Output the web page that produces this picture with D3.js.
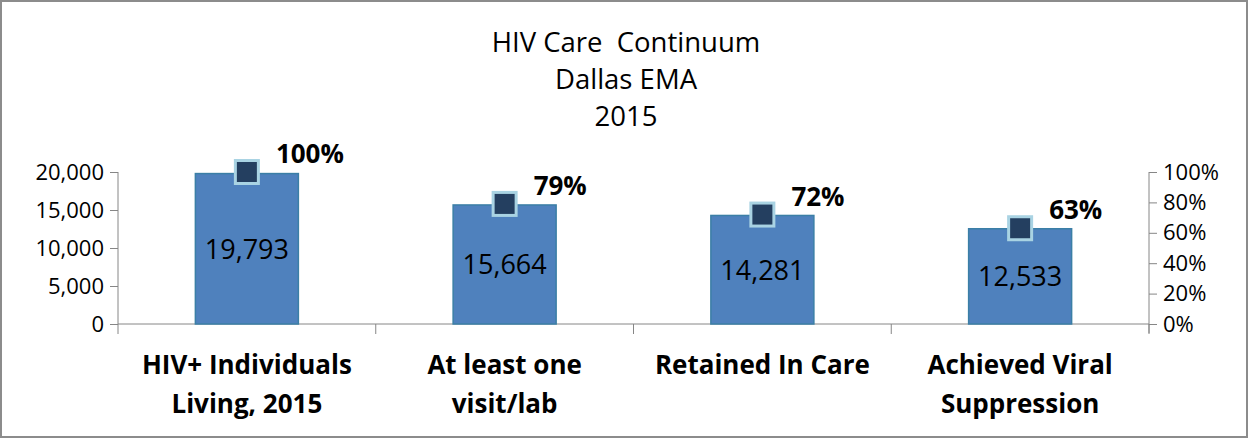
<!DOCTYPE html>
<html>
<head>
<meta charset="utf-8">
<script src="https://cdn.jsdelivr.net/npm/d3@7"></script>
<style>
  body { margin: 0; background: #fff; }
  svg text { font-family: "Open Sans", sans-serif; }
</style>
</head>
<body>
<div id="chart"></div>
<script>
var titleLines = ["HIV Care  Continuum", "Dallas EMA", "2015"];
var categories = ["HIV+ Individuals|Living, 2015", "At least one|visit/lab", "Retained In Care", "Achieved Viral|Suppression"];
var counts = [19793, 15664, 14281, 12533];
var percents = [100, 79, 72, 63];
var countTicks = [0, 5000, 10000, 15000, 20000];
var pctTicks = [0, 20, 40, 60, 80, 100];

var width = 1249, height = 439;
var svg = d3.select("#chart").append("svg")
    .attr("width", width)
    .attr("height", height);

// outer frame
svg.append("rect")
    .attr("x", 1).attr("y", 1)
    .attr("width", width - 3).attr("height", height - 3)
    .attr("fill", "#fff")
    .attr("stroke", "#8c8c8c")
    .attr("stroke-width", 2);

var plotLeft = 118, plotRight = 1149, plotTop = 172, plotBottom = 324;

var x = d3.scaleBand().domain(categories).range([plotLeft, plotRight]).padding(0);
var y = d3.scaleLinear().domain([0, 20000]).range([plotBottom, plotTop]);
var y2 = d3.scaleLinear().domain([0, 100]).range([plotBottom, plotTop]);

// title
svg.append("text")
    .attr("text-anchor", "middle")
    .attr("font-size", 27.5)
    .attr("fill", "#000")
    .style("white-space", "pre")
    .selectAll("tspan")
    .data(titleLines)
    .join("tspan")
    .attr("x", 626)
    .attr("y", (d, i) => 52 + i * 37)
    .text(d => d);

// left axis
var yAxis = svg.append("g")
    .attr("transform", "translate(" + plotLeft + ",0)")
    .call(d3.axisLeft(y).tickValues(countTicks).tickSize(8).tickPadding(6).tickFormat(d3.format(",")));
// right axis
var y2Axis = svg.append("g")
    .attr("transform", "translate(" + plotRight + ",0)")
    .call(d3.axisRight(y2).tickValues(pctTicks).tickSize(8).tickPadding(6).tickFormat(d => d + "%"));

[yAxis, y2Axis].forEach(function (g) {
    g.select(".domain").attr("stroke", "#868686");
    g.selectAll(".tick line").attr("stroke", "#868686");
    g.selectAll(".tick text").attr("font-size", 22).attr("fill", "#000")
        .attr("font-family", "'Open Sans', sans-serif");
});
yAxis.select(".domain").attr("d", "M0," + plotTop + "V" + plotBottom);
y2Axis.select(".domain").attr("d", "M0," + plotTop + "V" + (plotBottom + 9));

// category axis
var xAxis = svg.append("g")
    .attr("transform", "translate(0," + plotBottom + ")");
xAxis.append("line")
    .attr("x1", plotLeft).attr("x2", plotRight)
    .attr("stroke", "#868686");
var bounds = categories.map(c => x(c)).concat([plotRight]);
xAxis.selectAll("line.tk")
    .data(bounds)
    .join("line")
    .attr("class", "tk")
    .attr("x1", d => d).attr("x2", d => d)
    .attr("y1", 0).attr("y2", 10)
    .attr("stroke", "#868686");

xAxis.selectAll("text.cat")
    .data(categories)
    .join("text")
    .attr("class", "cat")
    .attr("text-anchor", "middle")
    .attr("font-size", 26)
    .attr("font-weight", "bold")
    .attr("fill", "#000")
    .each(function (d) {
        var lines = d.split("|");
        d3.select(this).selectAll("tspan")
            .data(lines)
            .join("tspan")
            .attr("x", x(d) + x.bandwidth() / 2)
            .attr("y", (l, i) => 50 + i * 39)
            .text(l => l);
    });

// bars
var barW = 103;
svg.selectAll("rect.bar")
    .data(counts)
    .join("rect")
    .attr("class", "bar")
    .attr("x", (d, i) => x(categories[i]) + x.bandwidth() / 2 - barW / 2)
    .attr("y", d => y(d))
    .attr("width", barW)
    .attr("height", d => plotBottom - y(d))
    .attr("fill", "#4f81bd")
    .attr("stroke", "#3b7fa6")
    .attr("stroke-width", 1.5);

svg.selectAll("text.val")
    .data(counts)
    .join("text")
    .attr("class", "val")
    .attr("text-anchor", "middle")
    .attr("font-size", 27)
    .attr("fill", "#000")
    .attr("x", (d, i) => x(categories[i]) + x.bandwidth() / 2)
    .attr("y", d => (y(d) + plotBottom) / 2 + 10)
    .text(d3.format(","));

// markers
var ms = 23;
svg.selectAll("rect.mark")
    .data(percents)
    .join("rect")
    .attr("class", "mark")
    .attr("x", (d, i) => x(categories[i]) + x.bandwidth() / 2 - ms / 2)
    .attr("y", d => y2(d) - ms / 2)
    .attr("width", ms)
    .attr("height", ms)
    .attr("fill", "#243f60")
    .attr("stroke", "#a9d3e3")
    .attr("stroke-width", 3);

svg.selectAll("text.pct")
    .data(percents)
    .join("text")
    .attr("class", "pct")
    .attr("font-size", 26)
    .attr("font-weight", "bold")
    .attr("fill", "#000")
    .attr("x", (d, i) => x(categories[i]) + x.bandwidth() / 2 + 29)
    .attr("y", d => y2(d) - 9)
    .text(d => d + "%");
</script>
</body>
</html>
